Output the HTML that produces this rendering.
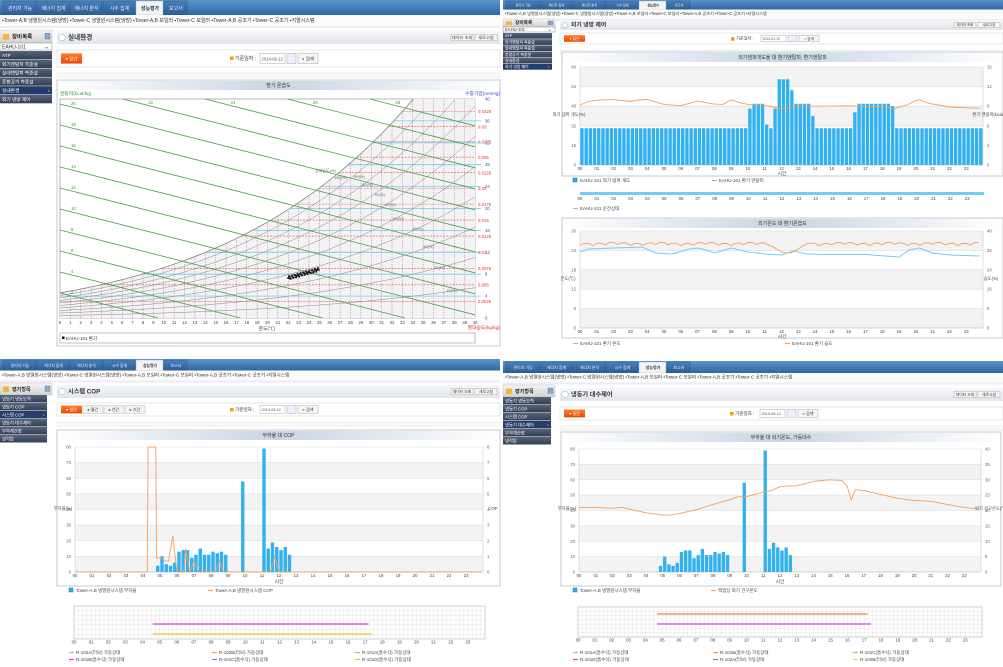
<!DOCTYPE html>
<html><head><meta charset="utf-8"><style>
html,body{margin:0;padding:0;background:#fff;width:1003px;height:667px;overflow:hidden}
svg{display:block;font-family:"Liberation Sans","Noto Sans CJK KR",sans-serif}
</style></head><body>
<svg id="s" xmlns="http://www.w3.org/2000/svg" width="1003" height="667" viewBox="0 0 1003 667">
<defs>
<linearGradient id="nav" x1="0" y1="0" x2="0" y2="1"><stop offset="0" stop-color="#5b93c9"/><stop offset="1" stop-color="#2f67a3"/></linearGradient>
<linearGradient id="tab" x1="0" y1="0" x2="0" y2="1"><stop offset="0" stop-color="#4a80b9"/><stop offset="1" stop-color="#2a5c96"/></linearGradient>
<linearGradient id="sh" x1="0" y1="0" x2="0" y2="1"><stop offset="0" stop-color="#f4f4f4"/><stop offset="1" stop-color="#d2d2d2"/></linearGradient>
<linearGradient id="tb" x1="0" y1="0" x2="0" y2="1"><stop offset="0" stop-color="#f6f7f9"/><stop offset="1" stop-color="#e1e5ea"/></linearGradient>
<linearGradient id="mn" x1="0" y1="0" x2="0" y2="1"><stop offset="0" stop-color="#56637a"/><stop offset="1" stop-color="#343f54"/></linearGradient>
<linearGradient id="ct" x1="0" y1="0" x2="1" y2="0"><stop offset="0" stop-color="#ffffff"/><stop offset="0.5" stop-color="#c8d5e6"/><stop offset="1" stop-color="#ffffff"/></linearGradient>
<linearGradient id="ob" x1="0" y1="0" x2="0" y2="1"><stop offset="0" stop-color="#ff7a2a"/><stop offset="1" stop-color="#e84a05"/></linearGradient>
</defs>
</svg>
<script>
var ns="http://www.w3.org/2000/svg",S=document.getElementById('s');
function E(t,a,x){var e=document.createElementNS(ns,t);for(var k in a)e.setAttribute(k,a[k]);if(x!=null)e.textContent=x;S.appendChild(e);return e;}
function R(x,y,w,h,f,st,sw){return E('rect',{x:x,y:y,width:w,height:h,fill:f,stroke:st||'none','stroke-width':sw||0.5});}
function L(a,b,c,d,col,w,da){var o={x1:a,y1:b,x2:c,y2:d,stroke:col,'stroke-width':w||0.5};if(da)o['stroke-dasharray']=da;return E('line',o);}
function T(x,y,s,sz,f,an,wt,tr){var o={x:x,y:y,'font-size':sz||5,fill:f||'#333','text-anchor':an||'start'};if(wt)o['font-weight']=wt;if(tr)o.transform=tr;return E('text',o,s);}
function P(pts,col,w,da,fill){var o={points:pts.map(function(p){return p[0].toFixed(1)+','+p[1].toFixed(1)}).join(' '),stroke:col,'stroke-width':w||1,fill:fill||'none'};if(da)o['stroke-dasharray']=da;return E('polyline',o);}
function pad(h){return (h<10?'0':'')+h;}
var tabs=['관리자 기능','에너지 집계','에너지 분석','시수 집계','성능평가','보고서'];
var subm='▪Tower-A,B 냉열원시스템(냉방)   ▪Tower-C 냉열원시스템(냉방)   ▪Tower-A,B 보일러   ▪Tower-C 보일러   ▪Tower-A,B 공조기   ▪Tower-C 공조기   ▪지열시스템';
function panel(ox,oy,w,c){
 R(ox,oy,w,c.nh,'url(#nav)');
 var tx=ox+3,tw=[34,33,33,33,28,24];
 for(var i=0;i<6;i++){var act=i==4;R(tx,oy+1,tw[i]-1,c.nh-1,act?'#f3f4f6':'url(#tab)',act?'#9ab':'#23528a',0.4);
  T(tx+tw[i]/2,oy+c.nh*0.68,tabs[i],c.nh*0.33,act?'#234':'#e8eef6','middle',act?'bold':null);tx+=tw[i];}
 R(ox,oy+c.nh,w,c.sy-c.nh+4,'#fbfbfb');
 T(ox+2,oy+c.sy,subm,c.fs,'#333');
 R(ox,oy+c.sy+4,w,2,'#eceef0');
 R(ox,oy+c.hy,52,c.hh,'url(#sh)','#bbb',0.4);
 R(ox+3,oy+c.hy+c.hh*0.3,6,c.hh*0.45,'#f2b634');
 T(ox+12,oy+c.hy+c.hh*0.65,c.sideT,c.fs+0.5,'#222',null,'bold');
 R(ox+45,oy+c.hy+c.hh*0.25,5,c.hh*0.45,'#8fa8c8','#57a',0.4);
 var my=oy+c.hy+c.hh;
 if(c.sel){R(ox,my,52,c.selh,'#fff','#888',0.5);T(ox+2,my+c.selh*0.75,'EAHU-101',c.fs,'#333');T(ox+49,my+c.selh*0.8,'⌄',c.fs+1,'#333','end');my+=c.selh+1;}
 for(var i=0;i<c.items.length;i++){var act=i==c.act;R(ox,my+i*c.ih,c.iw,c.ih-0.5,act?'#233e6a':'url(#mn)');
  T(ox+2,my+i*c.ih+c.ih*0.68,c.items[i],c.fs-0.3,'#fff');if(act)T(ox+c.iw-4,my+i*c.ih+c.ih*0.7,'›',c.fs,'#fff');}
 R(ox+57,oy+c.ty,w-57,c.th,'url(#tb)');
 E('circle',{cx:ox+62,cy:oy+c.ty+c.th/2,r:c.th*0.25,fill:'#fff',stroke:'#8aa',"stroke-width":0.5});
 T(ox+68,oy+c.ty+c.th*0.65,c.title,c.fs+1.6,'#333',null,'bold');
 R(ox+w-49,oy+c.ty+c.th*0.25,22,c.th*0.5,'#f7f7f7','#999',0.4);T(ox+w-38,oy+c.ty+c.th*0.6,'데이터 조회',c.fs-0.8,'#333','middle');
 R(ox+w-25,oy+c.ty+c.th*0.25,22,c.th*0.5,'#f7f7f7','#999',0.4);T(ox+w-14,oy+c.ty+c.th*0.6,'새로고침',c.fs-0.8,'#333','middle');
 R(ox+57,oy+c.by,w-57,c.bh,'#fff','#d8d8d8',0.6);
 R(ox+61,oy+c.by+c.bh*0.2,21,c.bh*0.6,'url(#ob)');T(ox+71.5,oy+c.by+c.bh*0.62,'▾ 일간',c.fs-0.5,'#fff','middle');
 if(c.more){['월간','년간','기간'].forEach(function(s,k){R(ox+83+k*21,oy+c.by+c.bh*0.2,20,c.bh*0.6,'#f3f3f3','#aaa',0.4);T(ox+93+k*21,oy+c.by+c.bh*0.62,'▸ '+s,c.fs-0.6,'#333','middle');});}
 var cx=ox+c.dx;
 R(cx,oy+c.by+c.bh*0.38,3.5,3.5,'#f59b16');
 T(cx+5,oy+c.by+c.bh*0.6,'기준일자 :',c.fs,'#333');
 R(cx+30,oy+c.by+c.bh*0.2,25,c.bh*0.6,'#fff','#aaa',0.5);T(cx+31.5,oy+c.by+c.bh*0.62,c.date,c.fs-0.8,'#555');
 R(cx+57,oy+c.by+c.bh*0.2,9,c.bh*0.6,'#eef','#aaa',0.5);
 R(cx+68,oy+c.by+c.bh*0.2,20,c.bh*0.6,'#f6f6f6','#aaa',0.5);T(cx+78,oy+c.by+c.bh*0.62,'⌕ 검색',c.fs-0.5,'#333','middle');
 R(ox+57,oy+c.by+c.bh+6,w-57,4,'#fafafa','#e4e4e4',0.5);
}
var sideA=['ATP','외기엔탈피 측중설','실내엔탈피 측중설','혼합공기 측중설','실내환경','외기 냉방 제어'];
var sideB=['냉동기 냉동능력','냉동기 COP','시스템 COP','냉동기 대수제어','부하계산정','냉각탑'];
panel(0,0,500,{nh:15,sy:22,fs:5,hy:30,hh:13,sideT:'장비목록',sel:1,selh:7,items:sideA,act:4,iw:52,ih:8.8,ty:31,th:13,title:'실내환경',by:50,bh:17,dx:230,date:'2014-02-12'});
panel(503,0,500,{nh:9.5,sy:15,fs:4.2,hy:19,hh:8,sideT:'장비목록',sel:1,selh:5,items:sideA,act:5,iw:49,ih:6.2,ty:20,th:10,title:'외기 냉방 제어',by:33,bh:11,dx:228,date:'2014-02-12'});
panel(0,359,500,{nh:11.5,sy:17.5,fs:4.6,hy:24,hh:12,sideT:'평가항목',sel:0,items:sideB,act:2,iw:47,ih:8,ty:26,th:13,title:'시스템 COP',by:44,bh:13,dx:230,date:'2014-06-12',more:1});
panel(503,361,500,{nh:12,sy:17.5,fs:4.6,hy:24,hh:12,sideT:'평가항목',sel:0,items:sideB,act:3,iw:48,ih:8,ty:27,th:13,title:'냉동기 대수제어',by:46,bh:13,dx:227,date:'2014-06-12'});
S.appendChild(S.querySelector('defs'));
function frame(x,y,w,h,title){R(x,y,w,h,'#fff','#b8bec6',0.8);R(x+1,y+1,w-2,9,'url(#ct)');T(x+w/2,y+7,title,5,'#333','middle');}
function bands(x0,y0,x1,y1,n,gray){var dh=(y1-y0)/n;for(var i=0;i<n;i++){if((i%2==0)==gray)R(x0,y0+i*dh,x1-x0,dh,'#f3f3f3');L(x0,y0+i*dh,x1,y0+i*dh,'#dcdcdc',0.6);}L(x0,y1,x1,y1,'#aaa',0.6);L(x0,y0,x0,y1,'#ccc',0.6);L(x1,y0,x1,y1,'#ccc',0.6);}
function ylab(x,y0,y1,vals,an){var n=vals.length-1;vals.forEach(function(v,i){T(x,y1-(y1-y0)*i/n+1.5,v,4.3,'#666',an);});}
function hours(x0,x1,y){var hw=(x1-x0)/24;for(var h=0;h<24;h++)T(x0+h*hw,y,pad(h),4.3,'#444','middle');}
function line(x0,x1,y0,y1,max,pts,col,w){P(pts.map(function(p){return [x0+p[0]*(x1-x0)/24,y1-p[1]/max*(y1-y0)];}),col,w||0.9);}
function bars(x0,x1,y0,y1,max,b){var bw=(x1-x0)/96;for(var i=0;i<96;i++)if(b[i]>0){var hh=b[i]/max*(y1-y0);R(x0+i*bw+0.3,y1-hh,bw*0.8,hh,'#32b1f0');}}
function legs(items,y){items.forEach(function(it){if(it[3]=='sq'){R(it[0],y-4,4,4,'#32b1f0','#1a6ea8',0.5);}else L(it[0],y-1.5,it[0]+5,y-1.5,it[2],1.2);T(it[0]+7,y,it[1],4.5,'#444');});}

(function(){
 frame(57,80,443,266,'환기 온습도');
 var X=function(t){return 60+t*415/40},Y=function(p){return 318-p*219/40};
 var ps=function(t){return 4.58*Math.exp(17.27*t/(t+237.3));};
 R(60,99,415,219,'#fff','#888',0.6);
 var sat=[];for(var t=0;t<=40;t+=0.5){var p=ps(t);if(p>40){sat.push([X(33.9),Y(40)]);break;}sat.push([X(t),Y(p)]);}
 var poly=sat.slice();poly.push([X(40),Y(40)],[X(40),Y(0)],[X(0),Y(0)]);P(poly,'none',0,null,'#f3f3f3');
 for(var t=1;t<40;t++){var p=Math.min(ps(t),40);L(X(t),Y(0),X(t),Y(p),'#c050c0',0.5,'1.2,1.2');}
 function tOf(p){var lo=0,hi=60;for(var k=0;k<30;k++){var m=(lo+hi)/2;if(ps(m)<p)lo=m;else hi=m;}return lo;}
 for(var k=1;k<=13;k++){var x=0.0025*k,p=760*x/(0.622+x);L(X(Math.max(0,tOf(p))),Y(p),X(40),Y(p),'#f05050',0.6,'2,1.2');
  T(478,Y(p)+1.8,String(+x.toFixed(4)),4.3,'#e03030');}
 for(var p=4;p<=36;p+=4){L(X(Math.max(0,tOf(p))),Y(p),X(40)+6,Y(p),'#6cd0f0',0.8);}
 for(var r=1;r<=9;r++){var pts=[];for(var t=0;t<=40;t+=1){var pp=ps(t)*r/10;if(pp>40)break;pts.push([X(t),Y(pp)]);}P(pts,'#888',0.5);}
 P(sat,'#777',0.7);
 var labs=[20,18,16,14,12,10,8,6,4,2];
 for(var j=-4;j<10;j++){var y0=104+21*j,sl=0.255;var xa=60,ya=y0;if(ya<99){xa=60+(99-ya)/sl;ya=99;}var xb=475,yb=y0+sl*415;if(yb>318){xb=60+(318-y0)/sl;yb=318;}L(xa,ya,xb,yb,'#4aa04a',0.8);
  if(j>=0)T(71,y0+1,labs[j],4.3,'#3a9a3a');else T(xa+28,104,[28,26,24,22][j+4],4.3,'#3a9a3a','middle');}
 [['상대습도(%)',315,92],['100(%)',334,99],['90(%)',354,98],['80(%)',362,106],['70(%)',374,116],['60(%)',385,126],['50(%)',393,140],['40(%)',412,150],['30(%)',423,168],['20(%)',434,189],['10(%)',446,212]].forEach(function(a){T(a[1],a[2]+80,a[0],4,'#666');});
 for(var i=0;i<40;i++){var t=22+i*0.075,pp=7.3+i*0.04+Math.sin(i*1.7)*0.3;R(X(t)-0.9,Y(pp)-0.9,1.8,1.8,'#111');}
 for(var t=0;t<=40;t++)T(X(t),324,t,4.3,'#444','middle');
 for(var p=0;p<=40;p+=4)T(485,Y(p)+1.5,p,4.3,'#44a','start');
 T(60,95,'엔탈피(kcal/kg)',4.8,'#3a9a3a');T(500,95,'수증기압(mmHg)',4.8,'#44c','end');
 T(267,330,'온도(℃)',4.8,'#444','middle');T(500,329,'절대습도(kg/kg)',4.8,'#e03030','end');
 R(60,333,415,10,'#fff','#999',0.6);R(62,336.5,2.5,2.5,'#111');T(66,340,'EAHU-101 환기',4.5,'#333');
})();

(function(){
 frame(562,52,441,124,'외기댐퍼개도율 대 환기엔탈피, 환기엔탈피');
 var x0=580,x1=983,y0=67,y1=165;
 bands(x0,y0,x1,y1,5,true);
 var b=[];for(var i=0;i<96;i++)b[i]=30;
 b[40]=46;b[41]=b[42]=b[43]=50;b[44]=33;b[46]=46;b[47]=b[48]=b[49]=70;b[50]=61;b[51]=b[52]=b[53]=b[54]=50;b[55]=40;b[65]=43;for(var i=66;i<74;i++)b[i]=50;b[74]=48;
 bars(x0,x1,y0,y1,80,b);
 var oy=[[0,105],[0.5,102],[1,100],[2,100],[3,101],[3.5,100],[4,100],[5,104],[6,106],[7,101],[8,104],[8.5,104],[9,100],[9.5,103],[10,104],[11,106],[12,108],[12.5,108],[13,106],[14,106],[16,106],[17,106],[18,107],[18.7,109],[19.5,105],[20,101],[20.2,100],[20.8,104],[21.5,106],[22,107],[23,108],[23.8,108]];
 P(oy.map(function(p){return [x0+p[0]*(x1-x0)/24,p[1]+Math.sin(p[0]*9)*0.5];}),'#f5a05a',0.9);
 ylab(x0-4,y0,y1,[0,16,32,48,64,80],'end');ylab(x1+4,y0,y1,[0,3,6,9,12,15],'start');
 hours(x0,x1,170);T(782,175,'시간',4.8,'#444','middle');
 T(569,116,'외기 댐퍼 개도(%)',4.3,'#444','middle','rotate(-90 569 116)');T(991,116,'환기 엔탈피(kcal/kg)',4.3,'#444','middle','rotate(90 991 116)');
 legs([[573,'EAHU-101 외기 댐퍼 개도','#32b1f0','sq'],[712,'EAHU-101 환기 엔탈피','#f5a05a']],182);
 R(580,192,404,3,'#6ecff5');hours(580,984,200);
 legs([[573,'EAHU-101 운전상태','#6ecff5']],210);
 frame(562,218,441,120,'외기온도 대 환기온습도');
 y0=231;y1=328;bands(x0,y0,x1,y1,5,true);
 var bl=[[0,252],[0.5,249],[2,248],[3.7,247],[4.5,253],[5.5,254],[6.5,249],[7,248],[7.3,249],[8,253],[9,248],[10,252],[11,254],[12,255],[12.7,251],[13.5,254],[15,254.5],[17,254.5],[19,257],[19.6,250],[20.2,248],[21,253],[22,255],[23.8,256]];
 P(bl.map(function(p){return [x0+p[0]*(x1-x0)/24,p[1]];}),'#6ecff5',1);
 var or=[];for(var t=0;t<=23.8;t+=0.25){var y=243.5+((Math.round(t*4)%3==0)?1.5:-0.5)+Math.sin(t*2.3)*0.6;if(t>11.3&&t<13.6){var u=(t-11.3)/2.3;y=244+9*Math.sin(Math.PI*Math.min(1,u*1.1));}or.push([x0+t*(x1-x0)/24,y]);}
 P(or,'#f5a05a',0.9);
 ylab(x0-4,y0,y1,[0,6,12,18,24,30],'end');ylab(x1+4,y0,y1,[0,8,16,24,32,40],'start');
 hours(x0,x1,333);T(782,338,'시간',4.8,'#444','middle');
 T(568,280,'온도(℃)',4.3,'#444','middle','rotate(-90 568 280)');T(991,280,'습도(%)',4.3,'#444','middle','rotate(90 991 280)');
 legs([[573,'EAHU-101 환기 온도','#6ecff5'],[785,'EAHU-101 환기 습도','#f5a05a']],345);
})();

var bb=[];for(var i=0;i<96;i++)bb[i]=0;
[[19,4],[20,10],[21,5],[22,4],[23,6],[24,13],[25,14],[26,14],[27,9],[28,11],[29,15],[30,11],[31,11],[32,13],[33,12],[34,13],[35,11],[39,58],[44,79],[45,15],[46,19],[47,16],[48,14],[49,16],[50,11]].forEach(function(a){bb[a[0]]=a[1];});
function gridbox(x0,x1,y0,y1,lines){R(x0,y0,x1-x0,y1-y0,'#fff','#aaa',0.6);for(var x=x0;x<=x1;x+=(x1-x0)/96)L(x,y0,x,y1,'#ddd',0.4);for(var y=y0;y<=y1;y+=(y1-y0)/7)L(x0,y,x1,y,'#ddd',0.4);
 lines.forEach(function(l){L(x0+l[0]*(x1-x0)/24,l[2],x0+l[1]*(x1-x0)/24,l[2],l[3],1.3);});hours(x0,x1,y1+4.5);}
(function(){
 frame(57,430,443,156,'부하율 대 COP');
 var x0=75,x1=483,y0=447,y1=572;
 bands(x0,y0,x1,y1,8,false);
 bars(x0,x1,y0,y1,80,bb);
 line(x0,x1,y0,y1,80,[[0,0],[4.25,0],[4.3,80],[4.75,80],[4.8,9],[5.1,9],[5.25,7],[5.5,7],[5.75,23],[6,0],[6.4,0],[6.5,15],[6.75,0],[7,7],[7.25,0],[8.25,0],[8.5,7],[8.75,0],[11.5,0],[11.75,10],[12,0],[23.9,0]],'#f5a05a',0.9);
 ylab(x0-4,y0,y1,[0,10,20,30,40,50,60,70,80],'end');ylab(x1+4,y0,y1,[0,1,2,3,4,5,6,7,8],'start');
 hours(x0,x1,577);T(279,583,'시간',4.8,'#444','middle');
 T(63,510,'부하율(%)',4.3,'#444','middle','rotate(-90 63 510)');T(493,510,'COP',4.3,'#444','middle','rotate(90 493 510)');
 legs([[69,'Tower-A,B 냉열원시스템 부하율','#32b1f0','sq'],[208,'Tower-A,B 냉열원시스템 COP','#f5a05a']],592);
 gridbox(74,485,606,639,[[4.6,17.2,624,'#e040e0'],[4.6,17.4,634,'#f0c020']]);
 legs([[69,'R-102A(터보) 가동상태','#7cc8f0'],[212,'R-102B(터보) 가동상태','#f5a05a'],[355,'R-101A(흡수식) 가동상태','#9ad060']],654);
 legs([[69,'R-101B(흡수식) 가동상태','#e040e0'],[212,'R-101C(흡수식) 가동상태','#7080f0'],[355,'R-101D(흡수식) 가동상태','#f0c020']],661);
})();
(function(){
 frame(561,432,440,154,'부하율 대 외기온도, 가동대수');
 var x0=579,x1=981,y0=449,y1=572;
 bands(x0,y0,x1,y1,8,false);
 bars(x0,x1,y0,y1,80,bb);
 line(x0,x1,y0,y1,80,[[0,42],[1,42],[2,41.5],[2.6,42],[3,41],[4,38.5],[5,37],[5.5,37],[6,38],[7,40.5],[8,44],[9,47],[9.5,49],[10,49],[10.5,50.5],[11,52],[11.5,53],[12,55.5],[12.5,56],[13,56],[14,59],[14.5,59.5],[15,60],[15.7,59.5],[16,56],[16.25,47],[16.5,53.5],[17,53],[18,50.5],[19,48],[20,46.5],[21,46],[22,44],[23,42],[23.8,41]],'#f5a05a',0.9);
 ylab(x0-4,y0,y1,[0,10,20,30,40,50,60,70,80],'end');ylab(x1+4,y0,y1,[0,5,10,15,20,25,30,35,40],'start');
 hours(x0,x1,577);T(780,583,'시간',4.8,'#444','middle');
 T(567,510,'부하율(%)',4.3,'#444','middle','rotate(-90 567 510)');T(991,510,'외기 건구온도(℃)',4.3,'#444','middle','rotate(90 991 510)');
 legs([[573,'Tower-A,B 냉열원시스템 부하율','#32b1f0','sq'],[711,'백엽상 외기 건구온도','#f5a05a']],592);
 gridbox(578,982,607,637,[[4.7,17.2,614,'#f5802a'],[4.7,17.4,624,'#e040e0']]);
 legs([[573,'R-101A(흡수식) 가동상태','#7cc8f0'],[713,'R-101B(흡수식) 가동상태','#f5a05a'],[853,'R-101C(흡수식) 가동상태','#9ad060']],654);
 legs([[573,'R-101D(흡수식) 가동상태','#e040e0'],[713,'R-102A(터보) 가동상태','#7080f0'],[853,'R-102B(터보) 가동상태','#f0d070']],661);
})();
</script>
</body></html>
